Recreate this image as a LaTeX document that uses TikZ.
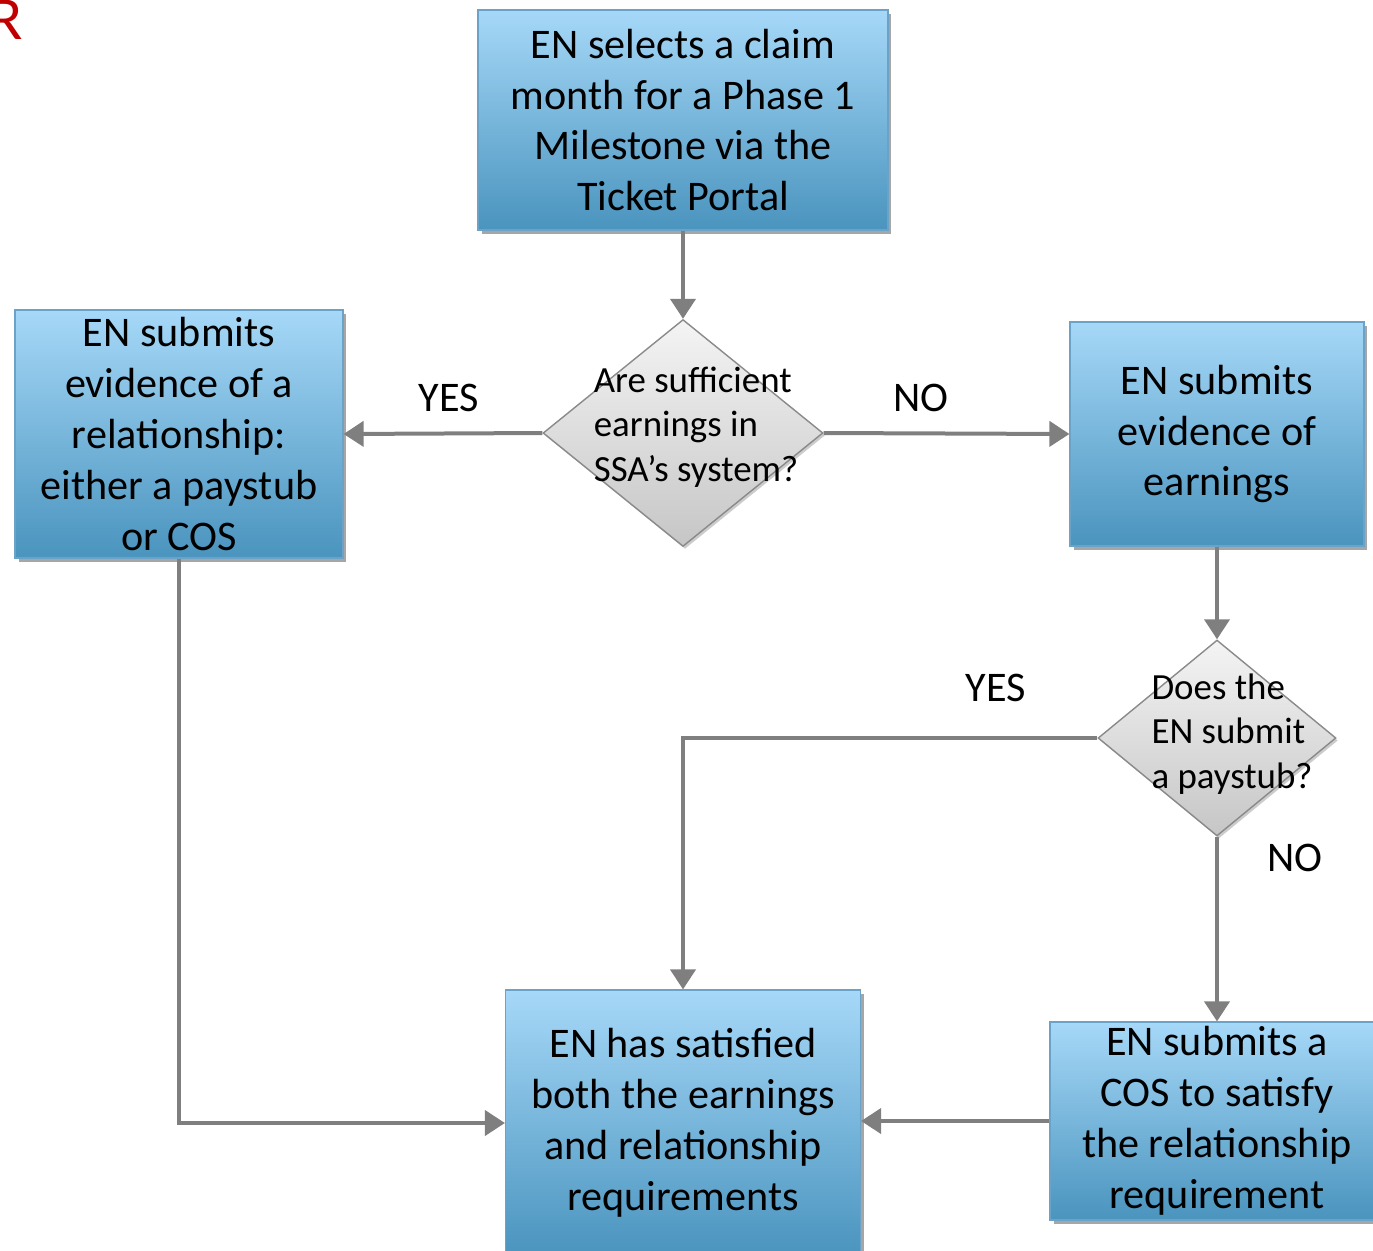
\documentclass[tikz,border=0pt]{standalone}
\usepackage{fontspec}
\setmainfont{Carlito}
\usepackage{xcolor}
\usepackage{tikz}
\usetikzlibrary{shapes.geometric, arrows.meta, positioning, calc, shadows}
\definecolor{boxtop}{HTML}{A6D8F8}
\definecolor{boxbottom}{HTML}{4A94BE}
\definecolor{boxedge}{HTML}{6BA3C8}
\definecolor{diatop}{HTML}{F4F4F4}
\definecolor{diabottom}{HTML}{C6C6C6}
\definecolor{diaedge}{HTML}{8A8A8A}
\definecolor{flowgray}{HTML}{7F7F7F}
\definecolor{markred}{HTML}{C00000}

\tikzset{
  stepbox/.style={rectangle, draw=boxedge, line width=0.7pt, top color=boxtop, bottom color=boxbottom,
    drop shadow={shadow xshift=0.07cm, shadow yshift=-0.08cm, fill=black, opacity=0.35},
    align=center, inner sep=2pt, font=\fontsize{24}{29}\selectfont},
  decision/.style={diamond, draw=diaedge, line width=0.8pt, top color=diatop, bottom color=diabottom,
    drop shadow={shadow xshift=0.04cm, shadow yshift=-0.05cm, fill=black, opacity=0.2},
    inner sep=0pt},
  qtext/.style={align=left, inner sep=0pt, font=\fontsize{21}{25.3}\selectfont},
  answer/.style={inner sep=0pt, font=\fontsize{24}{29}\selectfont},
  flowarrow/.style={draw=flowgray, line width=0.08cm, -{Triangle[length=0.4cm, width=0.5cm]}}
}

\begin{document}
\begin{tikzpicture}[x=0.02cm, y=-0.02cm]
  \useasboundingbox (0,0) rectangle (1373,1251);
  % cut-off mark in the corner
  \node[anchor=base east, inner sep=0pt, text=markred, font=\fontsize{35}{40}\selectfont] (mark) at (23,39) {R};

  % process boxes
  \node[stepbox, minimum width=8.2cm, minimum height=4.4cm] (start) at (683,120)
    {EN selects a claim\\month for a Phase 1\\Milestone via the\\Ticket Portal};
  \node[stepbox, minimum width=6.56cm, minimum height=4.96cm] (rel) at (179,434)
    {EN submits\\evidence of a\\relationship:\\either a paystub\\or COS};
  \node[stepbox, minimum width=5.88cm, minimum height=4.48cm] (earn) at (1217,434)
    {EN submits\\evidence of\\earnings};
  \node[stepbox, minimum width=7.1cm, minimum height=5.32cm] (done) at (683,1123)
    {EN has satisfied\\both the earnings\\and relationship\\requirements};
  \node[stepbox, minimum width=6.68cm, minimum height=3.96cm] (cos) at (1217,1121)
    {EN submits a\\COS to satisfy\\the relationship\\requirement};

  % decisions
  \node[decision, minimum width=5.6cm, minimum height=4.54cm,
    label={[qtext, xshift=0.26cm, yshift=0.12cm]center:{Are sufficient\\earnings in\\SSA’s system?}}] (q1) at (683,433) {};
  \node[decision, minimum width=4.76cm, minimum height=3.92cm,
    label={[qtext, xshift=0.3cm, yshift=0.08cm]center:{Does the\\EN submit\\a paystub?}}] (q2) at (1217,738) {};

  % connectors
  \draw[flowarrow] (start) -- (q1);
  \draw[flowarrow] (q1.west) -- (rel.east);
  \draw[flowarrow] (q1.east) -- (earn.west);
  \draw[flowarrow] (earn) -- (q2);
  \draw[flowarrow] (q2.west) -| (done.north);
  \draw[flowarrow] (q2) -- (cos);
  \draw[flowarrow] (cos.west) -- (cos.west -| done.east);
  \draw[flowarrow] (rel.south) |- (done.west);

  % answers
  \node[answer] (yes1) at (449,398) {YES};
  \node[answer] (no1) at (921,398) {NO};
  \node[answer] (yes2) at (996,688) {YES};
  \node[answer] (no2) at (1295,858) {NO};
\end{tikzpicture}
\end{document}
